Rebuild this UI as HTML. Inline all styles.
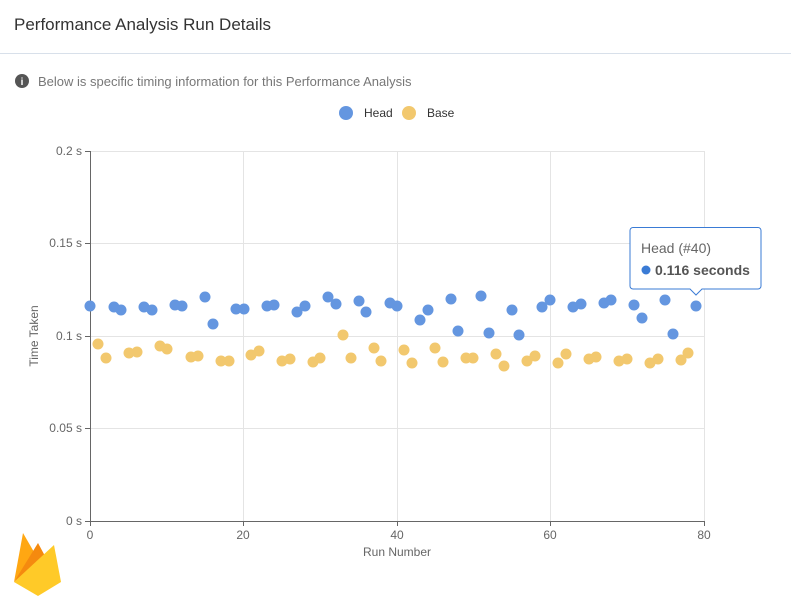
<!DOCTYPE html>
<html><head><style>
body{margin:0;width:791px;height:606px;background:#fff;font-family:"Liberation Sans",sans-serif;overflow:hidden;position:relative}
.t{position:absolute;left:14px;top:15px;font-size:17px;color:#333}
.hr{position:absolute;left:0;top:53px;width:791px;height:1px;background:#d8e0ea}
</style></head><body>
<div class="t">Performance Analysis Run Details</div>
<div class="hr"></div>
<svg width="791" height="606" style="position:absolute;left:0;top:0" font-family="Liberation Sans, sans-serif">
<circle cx="22" cy="81" r="7" fill="#555"/><text x="22" y="85" font-size="10" fill="#fff" text-anchor="middle" font-weight="bold">i</text>
<text x="38" y="86" font-size="13" fill="#777">Below is specific timing information for this Performance Analysis</text>
<circle cx="346" cy="113" r="7" fill="#6496e0"/><text x="364" y="117" font-size="12" fill="#333">Head</text>
<circle cx="409" cy="113" r="7" fill="#f2c86e"/><text x="427" y="117" font-size="12" fill="#333">Base</text>
<g stroke="#e4e4e4" stroke-width="1">
<line x1="90" y1="151.5" x2="704" y2="151.5"/><line x1="90" y1="243.5" x2="704" y2="243.5"/><line x1="90" y1="336.5" x2="704" y2="336.5"/><line x1="90" y1="428.5" x2="704" y2="428.5"/>
<line x1="243.5" y1="151" x2="243.5" y2="521"/><line x1="397.5" y1="151" x2="397.5" y2="521"/><line x1="550.5" y1="151" x2="550.5" y2="521"/><line x1="704.5" y1="151" x2="704.5" y2="521"/>
</g>
<g stroke="#666" stroke-width="1"><line x1="90.5" y1="151" x2="90.5" y2="526"/><line x1="85" y1="521.5" x2="704" y2="521.5"/>
<line x1="85" y1="151.5" x2="90" y2="151.5"/><line x1="85" y1="243.5" x2="90" y2="243.5"/><line x1="85" y1="336.5" x2="90" y2="336.5"/><line x1="85" y1="428.5" x2="90" y2="428.5"/>
<line x1="243.5" y1="521" x2="243.5" y2="526"/><line x1="397.5" y1="521" x2="397.5" y2="526"/><line x1="550.5" y1="521" x2="550.5" y2="526"/><line x1="704.5" y1="521" x2="704.5" y2="526"/></g>
<g font-size="12" fill="#666" text-anchor="end">
<text x="82" y="155">0.2 s</text><text x="82" y="247">0.15 s</text><text x="82" y="340">0.1 s</text><text x="82" y="432">0.05 s</text><text x="82" y="525">0 s</text></g>
<g font-size="12" fill="#666" text-anchor="middle">
<text x="90" y="539">0</text><text x="243" y="539">20</text><text x="397" y="539">40</text><text x="550" y="539">60</text><text x="704" y="539">80</text>
<text x="397" y="556">Run Number</text></g>
<text transform="translate(38,336) rotate(-90)" font-size="12" fill="#666" text-anchor="middle">Time Taken</text>
<g fill="#f2c86e">
<circle cx="98" cy="344" r="5.5"/><circle cx="106" cy="358" r="5.5"/><circle cx="129" cy="353" r="5.5"/><circle cx="137" cy="352" r="5.5"/><circle cx="160" cy="346" r="5.5"/><circle cx="167" cy="349" r="5.5"/><circle cx="191" cy="357" r="5.5"/><circle cx="198" cy="356" r="5.5"/><circle cx="221" cy="361" r="5.5"/><circle cx="229" cy="361" r="5.5"/><circle cx="251" cy="355" r="5.5"/><circle cx="259" cy="351" r="5.5"/><circle cx="282" cy="361" r="5.5"/><circle cx="290" cy="359" r="5.5"/><circle cx="313" cy="362" r="5.5"/><circle cx="320" cy="358" r="5.5"/><circle cx="343" cy="335" r="5.5"/><circle cx="351" cy="358" r="5.5"/><circle cx="374" cy="348" r="5.5"/><circle cx="381" cy="361" r="5.5"/><circle cx="404" cy="350" r="5.5"/><circle cx="412" cy="363" r="5.5"/><circle cx="435" cy="348" r="5.5"/><circle cx="443" cy="362" r="5.5"/><circle cx="466" cy="358" r="5.5"/><circle cx="473" cy="358" r="5.5"/><circle cx="504" cy="366" r="5.5"/><circle cx="496" cy="354" r="5.5"/><circle cx="527" cy="361" r="5.5"/><circle cx="535" cy="356" r="5.5"/><circle cx="558" cy="363" r="5.5"/><circle cx="566" cy="354" r="5.5"/><circle cx="589" cy="359" r="5.5"/><circle cx="596" cy="357" r="5.5"/><circle cx="619" cy="361" r="5.5"/><circle cx="627" cy="359" r="5.5"/><circle cx="650" cy="363" r="5.5"/><circle cx="658" cy="359" r="5.5"/><circle cx="681" cy="360" r="5.5"/><circle cx="688" cy="353" r="5.5"/>
</g>
<g fill="#6496e0">
<circle cx="90" cy="306" r="5.5"/><circle cx="114" cy="307" r="5.5"/><circle cx="121" cy="310" r="5.5"/><circle cx="144" cy="307" r="5.5"/><circle cx="152" cy="310" r="5.5"/><circle cx="175" cy="305" r="5.5"/><circle cx="182" cy="306" r="5.5"/><circle cx="205" cy="297" r="5.5"/><circle cx="213" cy="324" r="5.5"/><circle cx="236" cy="309" r="5.5"/><circle cx="244" cy="309" r="5.5"/><circle cx="267" cy="306" r="5.5"/><circle cx="274" cy="305" r="5.5"/><circle cx="297" cy="312" r="5.5"/><circle cx="305" cy="306" r="5.5"/><circle cx="328" cy="297" r="5.5"/><circle cx="336" cy="304" r="5.5"/><circle cx="359" cy="301" r="5.5"/><circle cx="366" cy="312" r="5.5"/><circle cx="390" cy="303" r="5.5"/><circle cx="397" cy="306" r="5.5"/><circle cx="420" cy="320" r="5.5"/><circle cx="428" cy="310" r="5.5"/><circle cx="451" cy="299" r="5.5"/><circle cx="458" cy="331" r="5.5"/><circle cx="481" cy="296" r="5.5"/><circle cx="489" cy="333" r="5.5"/><circle cx="512" cy="310" r="5.5"/><circle cx="519" cy="335" r="5.5"/><circle cx="542" cy="307" r="5.5"/><circle cx="550" cy="300" r="5.5"/><circle cx="573" cy="307" r="5.5"/><circle cx="581" cy="304" r="5.5"/><circle cx="604" cy="303" r="5.5"/><circle cx="611" cy="300" r="5.5"/><circle cx="634" cy="305" r="5.5"/><circle cx="642" cy="318" r="5.5"/><circle cx="665" cy="300" r="5.5"/><circle cx="673" cy="334" r="5.5"/><circle cx="696" cy="306" r="5.5"/>
</g>
<path d="M633,227.5 H758 a3,3 0 0 1 3,3 V286 a3,3 0 0 1 -3,3 H702 L696,295 L690,289 H633 a3,3 0 0 1 -3,-3 V230.5 a3,3 0 0 1 3,-3 Z" fill="#fff" stroke="#3a7bd5" stroke-width="1"/>
<text x="641" y="253" font-size="14" fill="#666">Head (#40)</text>
<circle cx="646" cy="270" r="4.5" fill="#3a7bd5"/>
<text x="655" y="275" font-size="14" fill="#555" font-weight="bold">0.116 seconds</text>
<g transform="translate(14,530)">
<path d="M0,52 L9,3 L20,22 Z" fill="#ffa712"/>
<path d="M0,52 L24,13 L31,26 Z" fill="#f58a0f"/>
<path d="M0,52 L40,15 L47,52 L24,66 Z" fill="#ffca28"/>
</g>
</svg>
</body></html>
